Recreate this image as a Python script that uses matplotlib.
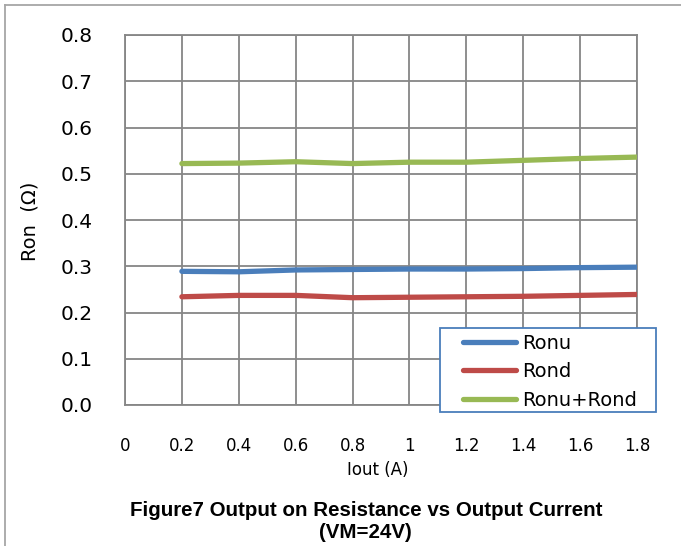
import matplotlib
matplotlib.use("Agg")
import matplotlib.pyplot as plt
from matplotlib.lines import Line2D
from matplotlib.patches import Rectangle

# Output on-resistance vs output current (VM = 24 V)
iout = [0.2, 0.4, 0.6, 0.8, 1.0, 1.2, 1.4, 1.6, 1.8]
ronu = [0.289, 0.288, 0.292, 0.293, 0.294, 0.294, 0.295, 0.297, 0.298]
rond = [0.234, 0.237, 0.237, 0.232, 0.233, 0.234, 0.235, 0.237, 0.239]
ronu_rond = [0.522, 0.523, 0.526, 0.522, 0.525, 0.525, 0.529, 0.533, 0.536]

x_ticks = [0, 0.2, 0.4, 0.6, 0.8, 1.0, 1.2, 1.4, 1.6, 1.8]
x_labels = ["0", "0.2", "0.4", "0.6", "0.8", "1", "1.2", "1.4", "1.6", "1.8"]
y_ticks = [0.0, 0.1, 0.2, 0.3, 0.4, 0.5, 0.6, 0.7, 0.8]
y_labels = ["0.0", "0.1", "0.2", "0.3", "0.4", "0.5", "0.6", "0.7", "0.8"]

series_names = ["Ronu", "Rond", "Ronu+Rond"]
colors = ["#4a7ebb", "#be4b48", "#98b954"]

W, H = 681, 546
fig = plt.figure(figsize=(W / 100, H / 100), dpi=100)
fig.patch.set_facecolor("white")

ax = fig.add_axes([125 / W, 1 - 405 / H, (637 - 125) / W, (405 - 35) / H])
grid_c = "#868686"

for y, name, c in zip([ronu, rond, ronu_rond], series_names, colors):
    ax.plot(iout, y, color=c, lw=3.8, solid_capstyle="round", zorder=3)

ax.set_xlim(0, 1.8)
ax.set_ylim(0, 0.8)
ax.set_xticks(x_ticks)
ax.set_xticklabels(x_labels, fontsize=12, family="DejaVu Sans")
ax.set_yticks(y_ticks)
ax.set_yticklabels(y_labels, fontsize=14.5, family="DejaVu Sans")
ax.tick_params(axis="both", length=0)
ax.tick_params(axis="y", pad=23)
ax.tick_params(axis="x", pad=23)
ax.grid(True, color=grid_c, lw=1.3, zorder=1)
for s in ax.spines.values():
    s.set_color(grid_c)
    s.set_linewidth(1.3)

ax.set_ylabel("Ron  (Ω)", fontsize=14, family="DejaVu Sans")
ax.yaxis.set_label_coords(40 / W, 1 - 221 / H, transform=fig.transFigure)
fig.text(378 / W, 1 - 470 / H, "Iout (A)", fontsize=12, ha="center", va="center",
         family="DejaVu Sans")

title_font = ["Liberation Sans", "DejaVu Sans"]
fig.text(366 / W, 1 - 511 / H, "Figure7 Output on Resistance vs Output Current",
         fontsize=14.8, fontweight="bold", ha="center", va="center", family=title_font)
fig.text(365 / W, 1 - 532 / H, "(VM=24V)",
         fontsize=14.8, fontweight="bold", ha="center", va="center", family=title_font)

# Legend: framed box with line samples
fig.patches.append(Rectangle((440 / W, 1 - 412 / H), 216 / W, 84 / H,
                             transform=fig.transFigure, facecolor="white",
                             edgecolor="#4a7ebb", lw=1.3, zorder=5))
handles = [Line2D([0], [0], color=c, lw=3.8, solid_capstyle="round") for c in colors]
leg = fig.legend(handles, series_names, loc="upper left",
                 bbox_to_anchor=(459 / W, 1 - 330 / H), bbox_transform=fig.transFigure,
                 frameon=False, prop={"family": "DejaVu Sans", "size": 14},
                 handlelength=2.75, handletextpad=0.28, labelspacing=0.48,
                 borderpad=0.2, borderaxespad=0)
leg.set_zorder(6)

# Outer chart border
fig.add_artist(Line2D([5 / W, 5 / W], [0, 1 - 5 / H], transform=fig.transFigure,
                      color="#a6a6a6", lw=1.3))
fig.add_artist(Line2D([5 / W, 1], [1 - 5 / H, 1 - 5 / H], transform=fig.transFigure,
                      color="#a6a6a6", lw=1.3))

fig.savefig("out.png", dpi=100, facecolor="white")
